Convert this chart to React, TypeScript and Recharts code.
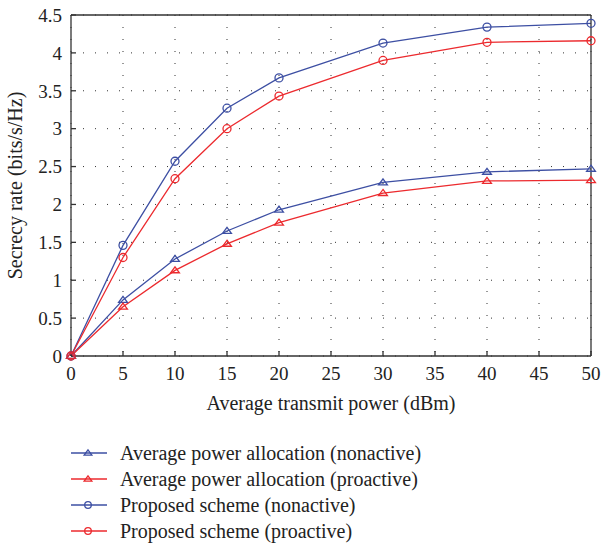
import React from "react";
import {
  LineChart,
  Line,
  XAxis,
  YAxis,
  CartesianGrid,
  Legend,
} from "recharts";

const powers = [0, 5, 10, 15, 20, 30, 40, 50];
const apaNonactive = [0, 0.74, 1.28, 1.65, 1.93, 2.29, 2.43, 2.47];
const apaProactive = [0, 0.65, 1.13, 1.48, 1.76, 2.15, 2.31, 2.32];
const proposedNonactive = [0, 1.46, 2.57, 3.27, 3.67, 4.13, 4.34, 4.39];
const proposedProactive = [0, 1.3, 2.34, 3.0, 3.43, 3.9, 4.14, 4.16];

const xTicks = [0, 5, 10, 15, 20, 25, 30, 35, 40, 45, 50];
const yTicks = [0, 0.5, 1, 1.5, 2, 2.5, 3, 3.5, 4, 4.5];

const BLUE = "#3d4fa3";
const RED = "#ec2a2e";
const AXIS = "#333";
const FONT = "'Liberation Serif', serif";

const data = powers.map((p, i) => ({
  power: p,
  apaNon: apaNonactive[i],
  apaPro: apaProactive[i],
  propNon: proposedNonactive[i],
  propPro: proposedProactive[i],
}));

const series = [
  { key: "apaNon", name: "Average power allocation (nonactive)", color: BLUE, shape: "triangle" },
  { key: "apaPro", name: "Average power allocation (proactive)", color: RED, shape: "triangle" },
  { key: "propNon", name: "Proposed scheme (nonactive)", color: BLUE, shape: "circle" },
  { key: "propPro", name: "Proposed scheme (proactive)", color: RED, shape: "circle" },
];

function Marker({ cx, cy, color, shape, size }: any) {
  if (cx == null || cy == null) return null;
  if (shape === "circle") {
    return <circle cx={cx} cy={cy} r={size} fill="none" stroke={color} strokeWidth={1.3} />;
  }
  const h = size * 1.5;
  const w = size * 1.1;
  return (
    <path
      d={`M${cx},${cy - h * 0.6} L${cx + w},${cy + h * 0.4} L${cx - w},${cy + h * 0.4} Z`}
      fill="none"
      stroke={color}
      strokeWidth={1.3}
    />
  );
}

function renderLegend(props: any) {
  const payload = props.payload || [];
  return (
    <div style={{ fontFamily: FONT, fontSize: 20, color: "#222" }}>
      {payload.map((entry: any) => {
        const s = series.find((x) => x.key === entry.dataKey) || series[0];
        return (
          <div key={s.key} style={{ display: "flex", alignItems: "center", height: 26 }}>
            <svg width={36} height={14} style={{ marginRight: 13 }}>
              <line x1={0} y1={7} x2={36} y2={7} stroke={s.color} strokeWidth={1.3} />
              <Marker cx={17} cy={7} color={s.color} shape={s.shape} size={s.shape === "circle" ? 3.3 : 3.5} />
            </svg>
            <span>{s.name}</span>
          </div>
        );
      })}
    </div>
  );
}

export default function App() {
  return (
    <div style={{ position: "absolute", left: 0, top: 0, width: 602, height: 545, background: "#fff", fontFamily: FONT }}>
      <LineChart
        width={602}
        height={545}
        data={data}
        margin={{ top: 14, right: 10, bottom: 129, left: 0 }}
      >
        <CartesianGrid stroke="#333" strokeDasharray="1 11" strokeWidth={1} />
        <XAxis
          dataKey="power"
          type="number"
          domain={[0, 50]}
          ticks={xTicks}
          height={60}
          tickSize={-5}
          tickMargin={16}
          axisLine={{ stroke: AXIS, strokeWidth: 1.3 }}
          tickLine={{ stroke: AXIS, strokeWidth: 1.3 }}
          tick={{ fill: "#222", fontSize: 19, fontFamily: FONT }}
          label={{
            value: "Average transmit power (dBm)",
            position: "insideBottom",
            offset: 6,
            style: { fill: "#222", fontSize: 20, fontFamily: FONT },
          }}
        />
        <XAxis
          xAxisId="top"
          orientation="top"
          dataKey="power"
          type="number"
          domain={[0, 50]}
          ticks={xTicks}
          height={1}
          tickSize={-5}
          tick={false}
          axisLine={{ stroke: AXIS, strokeWidth: 1.3 }}
          tickLine={{ stroke: AXIS, strokeWidth: 1.3 }}
        />
        <YAxis
          type="number"
          domain={[0, 4.5]}
          ticks={yTicks}
          width={71}
          tickSize={-5}
          tickMargin={14}
          axisLine={{ stroke: AXIS, strokeWidth: 1.3 }}
          tickLine={{ stroke: AXIS, strokeWidth: 1.3 }}
          tick={{ fill: "#222", fontSize: 19, fontFamily: FONT }}
          label={{
            value: "Secrecy rate (bits/s/Hz)",
            angle: -90,
            position: "insideLeft",
            offset: 15,
            style: { textAnchor: "middle", fill: "#222", fontSize: 20, fontFamily: FONT },
          }}
        />
        <YAxis
          yAxisId="right"
          orientation="right"
          type="number"
          domain={[0, 4.5]}
          ticks={yTicks}
          width={1}
          tickSize={-5}
          tick={false}
          axisLine={{ stroke: AXIS, strokeWidth: 1.3 }}
          tickLine={{ stroke: AXIS, strokeWidth: 1.3 }}
        />
        <Legend
          layout="vertical"
          verticalAlign="middle"
          align="center"
          wrapperStyle={{ top: 440, left: 71, width: 440 }}
          content={renderLegend}
        />
        {series.map((s) => (
          <Line
            key={s.key}
            dataKey={s.key}
            name={s.name}
            stroke={s.color}
            strokeWidth={1.3}
            isAnimationActive={false}
            dot={(p: any) => (
              <Marker key={`${s.key}-${p.index}`} cx={p.cx} cy={p.cy} color={s.color} shape={s.shape} size={4} />
            )}
            activeDot={false}
          />
        ))}
      </LineChart>
    </div>
  );
}
